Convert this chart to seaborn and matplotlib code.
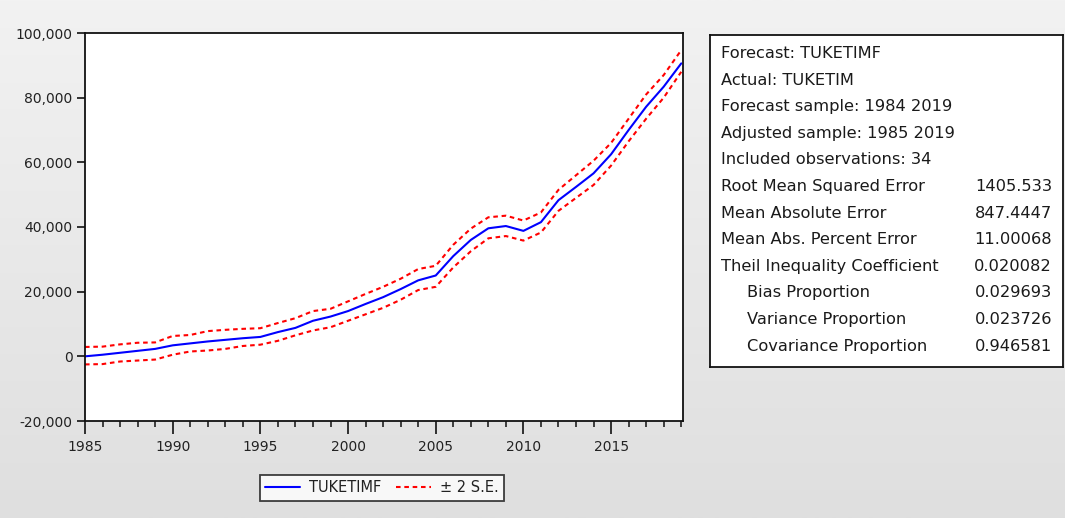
import numpy as np
import pandas as pd
import matplotlib
matplotlib.use("Agg")
import matplotlib.pyplot as plt
from matplotlib.colors import LinearSegmentedColormap
from matplotlib.ticker import FuncFormatter, MultipleLocator
import seaborn as sns

# ---------------- data ----------------
years = list(range(1985, 2020))
forecast = [0, 500, 1100, 1700, 2300, 3400, 4000, 4600, 5100, 5600,
            6000, 7500, 8800, 11000, 12300, 14000, 16200, 18300, 20800, 23500,
            25000, 31000, 36000, 39600, 40300, 38800, 41500, 48300, 52400, 56600,
            62500, 70000, 77200, 83400, 90600]
upper = [2900, 3000, 3700, 4200, 4300, 6300, 6600, 7800, 8200, 8500,
         8700, 10300, 11800, 14000, 14700, 17000, 19300, 21500, 24000, 27000,
         28000, 34500, 39500, 43000, 43500, 42000, 44500, 51500, 56000, 60500,
         66000, 73500, 81000, 87000, 94700]
lower = [-2500, -2400, -1600, -1300, -1000, 500, 1500, 1800, 2300, 3200,
         3600, 4800, 6500, 8000, 9000, 11000, 13000, 15000, 17500, 20500,
         21500, 27500, 32500, 36500, 37200, 35800, 38300, 45000, 49000, 53000,
         59000, 66500, 73500, 80000, 88000]

y_ticks = [-20000, 0, 20000, 40000, 60000, 80000, 100000]
x_ticks = [1985, 1990, 1995, 2000, 2005, 2010, 2015]

stat_labels = ["Forecast: TUKETIMF", "Actual: TUKETIM",
               "Forecast sample: 1984 2019", "Adjusted sample: 1985 2019",
               "Included observations: 34", "Root Mean Squared Error",
               "Mean Absolute Error", "Mean Abs. Percent Error",
               "Theil Inequality Coefficient", "Bias Proportion",
               "Variance Proportion", "Covariance Proportion"]
stat_values = ["", "", "", "", "", "1405.533", "847.4447", "11.00068",
               "0.020082", "0.029693", "0.023726", "0.946581"]
stat_indent = [False] * 9 + [True] * 3

legend_labels = ["TUKETIMF", "± 2 S.E."]

# ---------------- figure ----------------
sns.set_theme(style="white")
plt.rcParams["font.family"] = ["DejaVu Sans"]

W, H = 1065, 518
fig = plt.figure(figsize=(W / 100, H / 100), dpi=100)

def fx(x):
    return x / W

def fy(y):
    return 1 - y / H

# background gradient
bg = fig.add_axes([0, 0, 1, 1], zorder=-10)
grad = np.linspace(0, 1, 256).reshape(-1, 1)
cmap_bg = LinearSegmentedColormap.from_list("bg", ["#f2f2f2", "#dfdfdf"])
bg.imshow(grad, aspect="auto", cmap=cmap_bg, extent=[0, 1, 0, 1])
bg.set_axis_off()

# main axes
L, R, T, B = 85, 683, 33, 421
ax = fig.add_axes([fx(L), fy(B), fx(R) - fx(L), (B - T) / H])
ax.set_facecolor("white")

df = pd.DataFrame({"year": years, "forecast": forecast,
                   "upper": upper, "lower": lower})

sns.lineplot(data=df, x="year", y="forecast", ax=ax, color="#0000ff",
             lw=1.5, label=legend_labels[0], legend=False)
sns.lineplot(data=df, x="year", y="upper", ax=ax, color="#ff0000",
             lw=1.5, linestyle=(0, (2.2, 1.8)), label=legend_labels[1], legend=False)
sns.lineplot(data=df, x="year", y="lower", ax=ax, color="#ff0000",
             lw=1.5, linestyle=(0, (2.2, 1.8)), legend=False)

ax.set_xlim(1985, 2019.1)
ax.set_ylim(-20000, 100000)
ax.set_xticks(x_ticks)
ax.xaxis.set_minor_locator(MultipleLocator(1))
ax.set_yticks(y_ticks)
ax.yaxis.set_major_formatter(FuncFormatter(lambda v, p: f"{int(v):,}"))
ax.set_xlabel("")
ax.set_ylabel("")
for s in ax.spines.values():
    s.set_color("#111111")
    s.set_linewidth(1.3)
ax.tick_params(axis="y", which="major", direction="out", length=6, width=1.2,
               color="#111111", labelsize=10, pad=3, left=True, labelcolor="#222222")
ax.tick_params(axis="x", which="major", direction="out", length=9, width=1.2,
               color="#111111", labelsize=10, pad=5, bottom=True, labelcolor="#222222")
ax.tick_params(axis="x", which="minor", direction="out", length=4, width=1.1,
               color="#111111", bottom=True)

# legend
h1 = ax.get_lines()[0]
h2 = ax.get_lines()[1]
leg = fig.legend([h1, h2], legend_labels, loc="center",
                 bbox_to_anchor=(fx(382), fy(488)), ncol=2, frameon=True,
                 fancybox=False, edgecolor="#111111", fontsize=10.5,
                 handlelength=2.4, columnspacing=1.0, handletextpad=0.6,
                 borderpad=0.35, borderaxespad=0)
leg.get_frame().set_linewidth(1.3)
leg.get_frame().set_facecolor("white")
for t in leg.get_texts():
    t.set_color("#222222")

# stats box
bx0, by0, bx1, by1 = 710, 35, 1063, 367
sax = fig.add_axes([fx(bx0), fy(by1), fx(bx1) - fx(bx0), (by1 - by0) / H])
sax.set_facecolor("white")
sax.set_xticks([])
sax.set_yticks([])
for s in sax.spines.values():
    s.set_color("#111111")
    s.set_linewidth(1.3)

row_y0 = 53.5
row_dy = 26.6
for i, (lab, val, ind) in enumerate(zip(stat_labels, stat_values, stat_indent)):
    yy = row_y0 + i * row_dy
    fig.text(fx(747 if ind else 721), fy(yy), lab, ha="left", va="center",
             fontsize=11.7, color="#1a1a1a")
    if val:
        fig.text(fx(1052), fy(yy), val, ha="right", va="center",
                 fontsize=11.7, color="#1a1a1a")

fig.savefig("out.png", dpi=100)
